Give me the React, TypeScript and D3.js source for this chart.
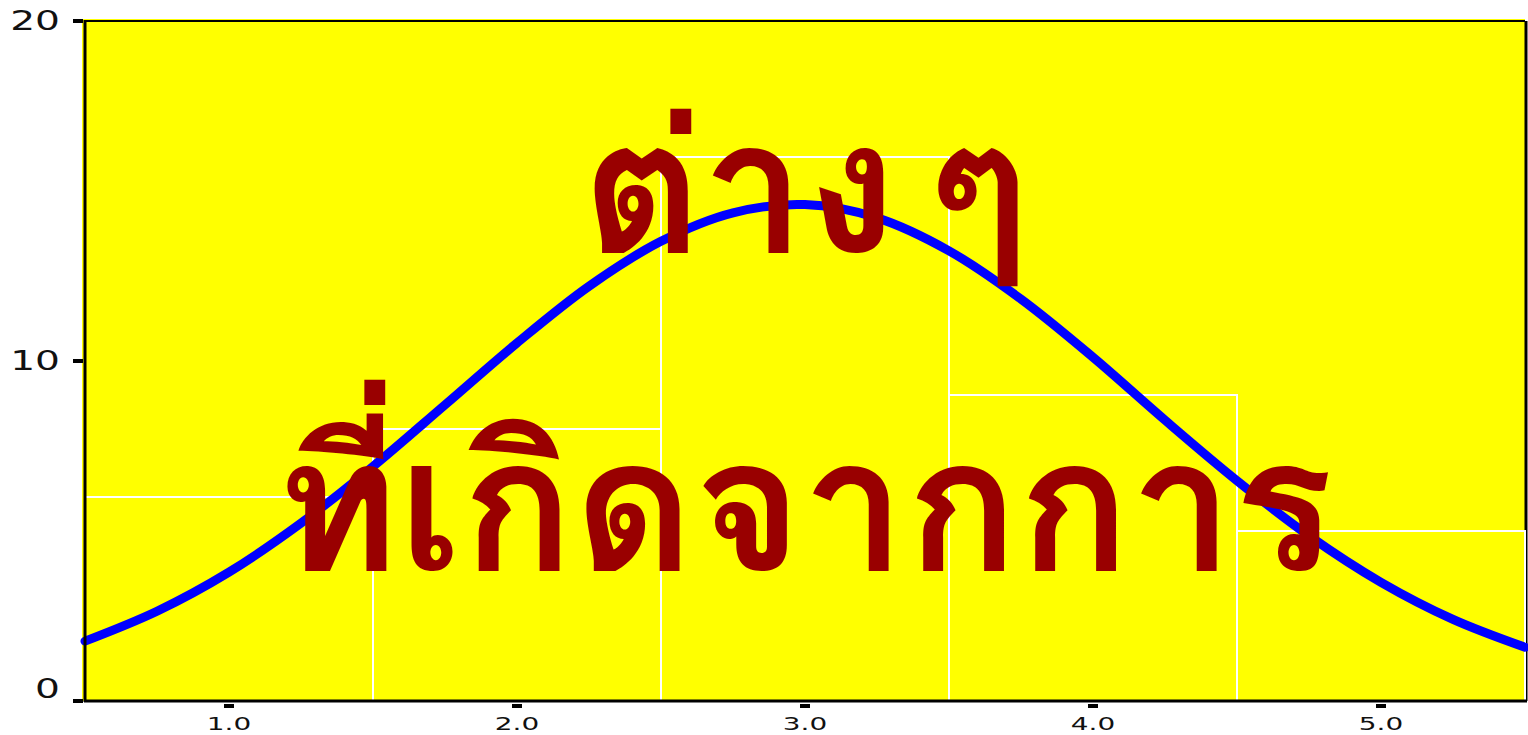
import React from "react";
import * as d3 from "d3";

// Histogram bins (class midpoints) and their counts
const binCenters = [1, 2, 3, 4, 5];
const binCounts = [6, 8, 16, 9, 5];

// Fitted normal curve, sampled along the x range
const curveX = [0.5, 0.75, 1.0, 1.25, 1.5, 1.75, 2.0, 2.25, 2.5, 2.75, 3.0, 3.25, 3.5, 3.75, 4.0, 4.25, 4.5, 4.75, 5.0, 5.25, 5.5];
const curveY = [1.76, 2.64, 3.79, 5.23, 6.9, 8.71, 10.53, 12.2, 13.52, 14.36, 14.6, 14.21, 13.24, 11.82, 10.11, 8.26, 6.48, 4.86, 3.49, 2.4, 1.58];

const xTicks = [1.0, 2.0, 3.0, 4.0, 5.0];
const yTicks = [0, 10, 20];

const titleLines = ["ต่าง ๆ", "ที่เกิดจากการ"];

const W = 1528;
const H = 735;
const plot = { left: 85, right: 1525, top: 21, bottom: 701 };

export default function App() {
  const x = d3.scaleLinear().domain([0.5, 5.5]).range([plot.left, plot.right]);
  const y = d3.scaleLinear().domain([0, 20]).range([plot.bottom, plot.top]);

  const line = d3
    .line<number>()
    .x((_, i) => x(curveX[i]))
    .y((d) => y(d))
    .curve(d3.curveCatmullRom);

  const cx = (plot.left + plot.right) / 2;

  return (
    <div style={{ position: "absolute", left: 0, top: 0 }}>
      <svg width={W} height={H} style={{ display: "block", background: "#fff" }}>
        {/* plot background */}
        <rect x={plot.left - 3} y={plot.top - 2} width={plot.right - plot.left + 3} height={plot.bottom - plot.top + 2} fill="#ffff00" />
        {/* frame */}
        <line x1={plot.left} x2={plot.right} y1={plot.top} y2={plot.top} stroke="#000" strokeWidth={2} />
        <line x1={plot.right + 1} x2={plot.right + 1} y1={plot.top} y2={plot.bottom} stroke="#000" strokeWidth={3} />

        {/* histogram bars */}
        {binCenters.map((c, i) => (
          <rect
            key={c}
            x={x(c - 0.5)}
            y={y(binCounts[i])}
            width={x(c + 0.5) - x(c - 0.5)}
            height={y(0) - y(binCounts[i])}
            fill="#ffff00"
            stroke="#fff"
            strokeWidth={2}
          />
        ))}

        {/* normal curve */}
        <path d={line(curveY) || ""} fill="none" stroke="#0000ff" strokeWidth={9} strokeLinejoin="round" strokeLinecap="round" />

        {/* axes */}
        <line x1={plot.left} x2={plot.left} y1={plot.top - 1} y2={plot.bottom + 1} stroke="#000" strokeWidth={3} />
        <line x1={plot.left - 1} x2={plot.right + 2} y1={plot.bottom} y2={plot.bottom} stroke="#000" strokeWidth={3} />

        {/* y ticks */}
        {yTicks.map((t) => (
          <g key={t}>
            <rect x={plot.left - 12} y={y(t) - 2} width={10} height={4} fill="#000" />
            <text
              transform={`translate(60, ${t === 0 ? y(t) - 12 : y(t)}) scale(1.45, 1)`}
              textAnchor="end"
              dominantBaseline="central"
              fontFamily="DejaVu Sans, sans-serif"
              fontSize={27}
              fill="#111"
            >
              {t}
            </text>
          </g>
        ))}

        {/* x ticks */}
        {xTicks.map((t) => (
          <g key={t}>
            <rect x={x(t) - 5} y={plot.bottom + 3} width={10} height={4} fill="#000" />
            <text
              transform={`translate(${x(t)}, 730) scale(1.55, 1)`}
              textAnchor="middle"
              fontFamily="DejaVu Sans, sans-serif"
              fontSize={18}
              fill="#111"
            >
              {t.toFixed(1)}
            </text>
          </g>
        ))}

        {/* overlaid title */}
        {titleLines.map((s, i) => (
          <text
            key={i}
            x={cx}
            y={252 + i * 318}
            textAnchor="middle"
            fontFamily="Waree, Loma, Garuda, Norasi, Kinnari, Umpush, Sawasdee, 'Noto Sans Thai Looped', 'Noto Sans Thai', sans-serif"
            fontSize={185}
            fontWeight="bold"
            fill="#990000"
            style={{ wordSpacing: i === 0 ? "-30px" : "0px" }}
          >
            {s}
          </text>
        ))}
      </svg>
    </div>
  );
}
